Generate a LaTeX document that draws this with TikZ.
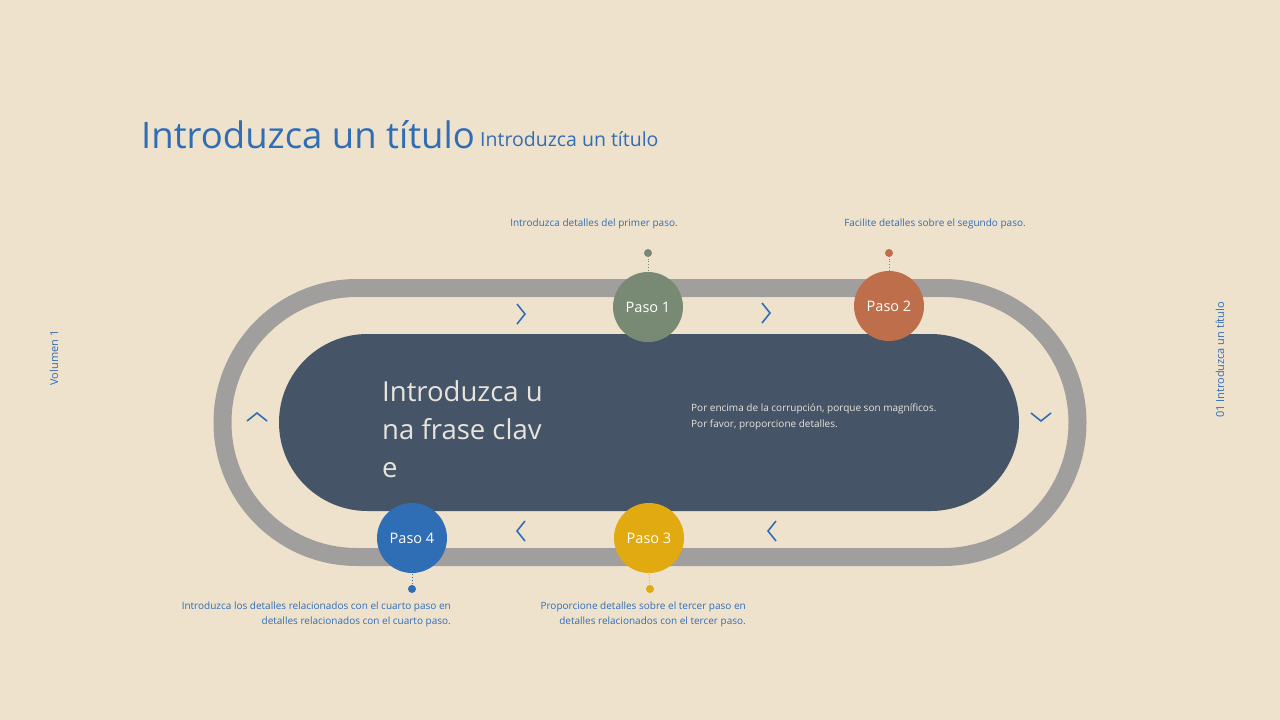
\documentclass[tikz,border=0pt]{standalone}
\usepackage{fontspec}
\setmainfont{Open Sans}
\begin{document}
\begin{tikzpicture}[x=1pt,y=-1pt]
\definecolor{bg}{HTML}{EFE2CD}
\definecolor{blu}{HTML}{2F6DB5}
\definecolor{trk}{HTML}{A19E9E}
\definecolor{dark}{HTML}{465468}
\definecolor{cA}{HTML}{788A73}
\definecolor{cB}{HTML}{BF6E4C}
\definecolor{cC}{HTML}{E0AA10}
\definecolor{txt}{HTML}{E8E4DC}
\tikzset{step circle/.style={circle,minimum size=70pt,inner sep=0pt,text=white,font=\fontsize{14.5}{16}\selectfont},
 chev/.style={draw=blu,line width=1.6pt},
 note/.style={text=blu,font=\fontsize{10}{14.5}\selectfont,inner sep=0pt},
 dotline/.style={dotted,line width=0.8pt}}
\fill[bg] (0,0) rectangle (1280,720);
\useasboundingbox (0,0) rectangle (1280,720);
% track
\draw[trk,line width=18pt,rounded corners=134.4] (222.5,288) rectangle (1077.5,557);
\fill[dark,rounded corners=88.4] (279,334) rectangle (1019,511);
% titles
\node[anchor=base west,inner sep=0pt,text=blu,font=\fontsize{36.5}{40}\selectfont] (t1) at (141,148) {Introduzca un título};
\node[anchor=base west,inner sep=0pt,text=blu,font=\fontsize{19.5}{22}\selectfont] (t2) at (480,146) {Introduzca un título};
\node[rotate=90,text=blu,font=\fontsize{11}{13}\selectfont] (v) at (54,358) {Volumen 1};
\node[rotate=90,text=blu,font=\fontsize{11}{13}\selectfont] (r) at (1220,360) {01 Introduzca un título};
% key phrase
\node[anchor=north west,inner sep=0pt,text=txt,align=left,font=\fontsize{27.5}{38}\selectfont] (k) at (382,380) {Introduzca u\\na frase clav\\e};
\node[anchor=north west,inner sep=0pt,text=txt,align=left,font=\fontsize{10}{16}\selectfont] (b) at (691,404) {Por encima de la corrupción, porque son magníficos.\\Por favor, proporcione detalles.};
% circles
\node[step circle,fill=cA] (p1) at (648,307) {Paso 1};
\node[step circle,fill=cB] (p2) at (889,306) {Paso 2};
\node[step circle,fill=cC] (p3) at (649,538) {Paso 3};
\node[step circle,fill=blu] (p4) at (412,538) {Paso 4};
\coordinate (d1) at (648,253); \coordinate (d2) at (889,253);
\coordinate (d3) at (650,589); \coordinate (d4) at (412,589);
\draw[cA,dotline] (d1) -- (p1.north); \fill[cA] (d1) circle (4);
\draw[cB,dotline] (d2) -- (p2.north); \fill[cB] (d2) circle (4);
\draw[cC,dotline] (d3) -- (p3.south); \fill[cC] (d3) circle (4);
\draw[blu,dotline] (d4) -- (p4.south); \fill[blu] (d4) circle (4);
% notes
\node[note,anchor=south] (n1) at (594,229) {Introduzca detalles del primer paso.};
\node[note,anchor=south] (n2) at (935,229) {Facilite detalles sobre el segundo paso.};
\node[note,anchor=north east,align=right] (n4) at (451,602) {Introduzca los detalles relacionados con el cuarto paso en\\detalles relacionados con el cuarto paso.};
\node[note,anchor=north east,align=right] (n3) at (746,602) {Proporcione detalles sobre el tercer paso en\\detalles relacionados con el tercer paso.};
% chevrons
\draw[chev] (517,304) -- (525,314) -- (517,324);
\draw[chev] (762,303) -- (770,313) -- (762,323);
\draw[chev] (525,521) -- (517,531) -- (525,541);
\draw[chev] (776,521) -- (768,531) -- (776,541);
\draw[chev] (247,421) -- (257,413) -- (267,421);
\draw[chev] (1031,413) -- (1041,421) -- (1051,413);
\end{tikzpicture}
\end{document}
